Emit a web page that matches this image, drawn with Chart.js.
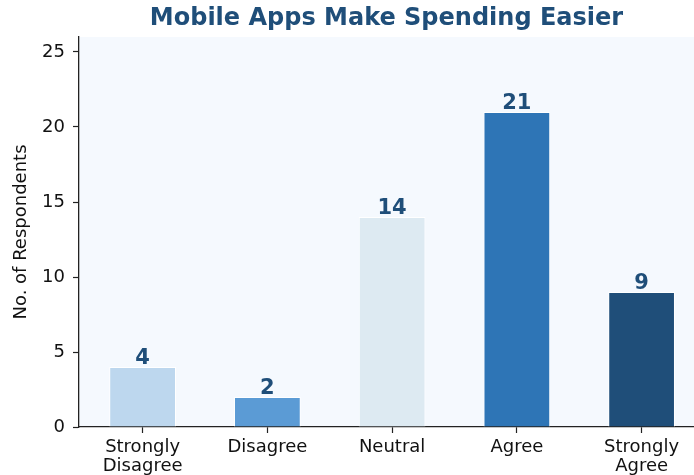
<!DOCTYPE html>
<html>
<head>
<meta charset="utf-8">
<script src="https://cdn.jsdelivr.net/npm/chart.js@4.4.0/dist/chart.umd.min.js"></script>
<style>
  html, body { margin: 0; padding: 0; background: #ffffff; }
  canvas { display: block; }
</style>
</head>
<body>
<canvas id="chart" width="694" height="475"></canvas>
<script>
// --- data ---
const categories = [["Strongly", "Disagree"], "Disagree", "Neutral", "Agree", ["Strongly", "Agree"]];
const respondents = [4, 2, 14, 21, 9];
const barColors = ['#bdd7ee', '#5b9bd5', '#ddeaf2', '#2e75b6', '#1f4e79'];
const yTicks = [0, 5, 10, 15, 20, 25];

const FONT = "'DejaVu Sans', sans-serif";
const DARK = '#1f4e79';

// light plot background
const plotBg = {
    id: 'plotBg',
    beforeDraw(chart) {
        const { ctx, chartArea: a } = chart;
        ctx.save();
        ctx.fillStyle = '#f5f9fe';
        ctx.fillRect(a.left, a.top, a.right - a.left, a.bottom - a.top);
        ctx.restore();
    }
};

// value above each bar
const barLabels = {
    id: 'barLabels',
    afterDatasetsDraw(chart) {
        const ctx = chart.ctx;
        const meta = chart.getDatasetMeta(0);
        ctx.save();
        ctx.font = "bold 21px " + FONT;
        ctx.fillStyle = DARK;
        ctx.textAlign = 'center';
        ctx.textBaseline = 'bottom';
        meta.data.forEach((bar, i) => {
            ctx.fillText(String(respondents[i]), bar.x, bar.y + 2);
        });
        ctx.restore();
    }
};

new Chart(document.getElementById('chart'), {
    type: 'bar',
    data: {
        datasets: [{
            data: respondents.map((v, i) => ({ x: i, y: v })),
            backgroundColor: barColors,
            borderColor: '#ffffff',
            borderWidth: 1,
            barPercentage: 0.535,
            categoryPercentage: 1
        }]
    },
    options: {
        responsive: false,
        animation: false,
        layout: { padding: 0 },
        plugins: {
            legend: { display: false },
            tooltip: { enabled: false },
            title: {
                display: true,
                text: 'Mobile Apps Make Spending Easier',
                color: DARK,
                fullSize: false,
                font: { family: FONT, size: 24, weight: 'bold', lineHeight: 1.2 },
                padding: { top: 4, bottom: 4.2 }
            }
        },
        scales: {
            x: {
                type: 'linear',
                min: -0.51,
                max: 4.42,
                offset: false,
                afterBuildTicks(scale) {
                    scale.ticks = categories.map((c, i) => ({ value: i }));
                },
                afterFit(scale) { scale.height = 48; },
                grid: { offset: false, drawOnChartArea: false, tickLength: 6, tickColor: '#222', tickWidth: 1.2 },
                border: { color: '#222', width: 1.3 },
                ticks: {
                    color: '#111',
                    padding: 4,
                    maxRotation: 0,
                    font: { family: FONT, size: 18, lineHeight: 1.1 },
                    callback: (v) => categories[v]
                }
            },
            y: {
                min: 0,
                max: 26,
                afterBuildTicks(scale) {
                    scale.ticks = yTicks.map(v => ({ value: v }));
                },
                afterFit(scale) { scale.width = 79; },
                grid: { drawOnChartArea: false, tickLength: 6, tickColor: '#222', tickWidth: 1.2 },
                border: { color: '#222', width: 1.3 },
                ticks: {
                    color: '#111',
                    padding: 8,
                    font: { family: FONT, size: 18 }
                },
                title: {
                    display: true,
                    text: 'No. of Respondents',
                    color: '#111',
                    font: { family: FONT, size: 18, lineHeight: 1.2 },
                    padding: { top: 11, bottom: 0 }
                }
            }
        }
    },
    plugins: [plotBg, barLabels]
});
</script>
</body>
</html>
